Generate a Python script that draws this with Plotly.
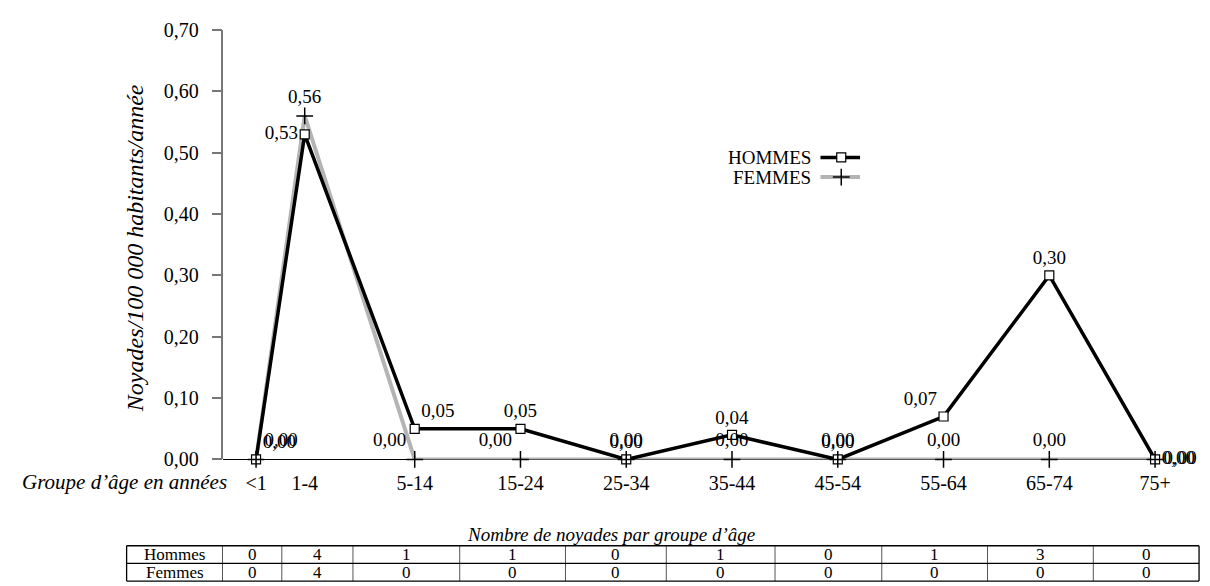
import plotly.graph_objects as go

# ---- data ----
age_groups = ["<1", "1-4", "5-14", "15-24", "25-34", "35-44", "45-54", "55-64", "65-74", "75+"]
hommes_rate = [0.00, 0.53, 0.05, 0.05, 0.00, 0.04, 0.00, 0.07, 0.30, 0.00]
femmes_rate = [0.00, 0.56, 0.00, 0.00, 0.00, 0.00, 0.00, 0.00, 0.00, 0.00]
hommes_count = [0, 4, 1, 1, 0, 1, 0, 1, 3, 0]
femmes_count = [0, 4, 0, 0, 0, 0, 0, 0, 0, 0]
row_labels = ["Hommes", "Femmes"]
y_ticks = [0.0, 0.1, 0.2, 0.3, 0.4, 0.5, 0.6, 0.7]

# axis placement of the age groups (first group is narrower)
x_pos = [0, 0.46, 1.5, 2.5, 3.5, 4.5, 5.5, 6.5, 7.5, 8.5]

hommes_textpos = ["top right", "middle left", "top right", "top center", "top center",
                  "top center", "top center", "top left", "top center", "middle right"]
femmes_textpos = ["top right", "top center", "top left", "top left", "top center",
                  "top center", "top center", "top center", "top center", "middle right"]

FONT = "Liberation Serif"
W, H = 1210, 586
TOP, BOT = 22, 586

def px_to_paper_y(py):
    return (BOT - py) / (BOT - TOP)

fig = go.Figure()

# femmes line (behind)
fig.add_trace(go.Scatter(
    x=x_pos, y=femmes_rate, mode="lines",
    line=dict(color="#b4b4b4", width=4), cliponaxis=False, showlegend=False,
    hoverinfo="skip"))
# hommes line + markers + labels
fig.add_trace(go.Scatter(
    x=x_pos, y=hommes_rate, mode="lines+markers+text",
    line=dict(color="black", width=3.5),
    marker=dict(symbol="square", size=9, color="white", line=dict(color="black", width=1.2)),
    texttemplate="%{y:.2f}", textposition=hommes_textpos,
    textfont=dict(family=FONT, size=19, color="black"),
    cliponaxis=False, showlegend=False))
# femmes markers + labels (on top)
fig.add_trace(go.Scatter(
    x=x_pos, y=femmes_rate, mode="markers+text",
    marker=dict(symbol="cross-thin", size=12, line=dict(color="black", width=1.5)),
    texttemplate="%{y:.2f}", textposition=femmes_textpos,
    textfont=dict(family=FONT, size=19, color="black"),
    cliponaxis=False, showlegend=False))

# ---- manual legend glyphs on a pixel helper axis ----
leg = [("HOMMES", 152, "black", 3.5, dict(symbol="square", size=9, color="white",
                                            line=dict(color="black", width=1.2))),
       ("FEMMES", 172, "#b4b4b4", 4, dict(symbol="cross-thin", size=12,
                                           line=dict(color="black", width=1.5)))]
for name, py, col, w, mk in leg:
    fig.add_trace(go.Scatter(x=[822, 862], y=[py, py], mode="lines",
                             line=dict(color=col, width=w), xaxis="x2", yaxis="y2",
                             showlegend=False, hoverinfo="skip"))
    fig.add_trace(go.Scatter(x=[843], y=[py], mode="markers", marker=mk,
                             xaxis="x2", yaxis="y2", showlegend=False, hoverinfo="skip"))
    fig.add_annotation(x=814, y=py, xref="x2", yref="y2", text=name, showarrow=False,
                       xanchor="right", yanchor="middle",
                       font=dict(family=FONT, size=19, color="black"))

# ---- table (drawn with shapes + annotations on the pixel helper axis) ----
col_edges = [120, 217, 277, 349, 457, 564, 666, 776, 884, 991, 1098, 1205]
row_edges = [548, 566, 584]
for xe in col_edges:
    outer = xe in (col_edges[0], col_edges[-1])
    fig.add_shape(type="line", xref="x2", yref="y2", x0=xe, x1=xe,
                  y0=row_edges[0], y1=row_edges[-1],
                  line=dict(color="black" if outer else "#555555", width=1.3 if outer else 1))
for ye in row_edges:
    fig.add_shape(type="line", xref="x2", yref="y2", x0=col_edges[0], x1=col_edges[-1],
                  y0=ye, y1=ye, line=dict(color="black", width=1.3))
for r, (label, counts) in enumerate(zip(row_labels, [hommes_count, femmes_count])):
    yc = (row_edges[r] + row_edges[r + 1]) / 2
    cells = [label] + [str(v) for v in counts]
    for c, txt in enumerate(cells):
        xc = (col_edges[c] + col_edges[c + 1]) / 2
        fig.add_annotation(x=xc, y=yc, xref="x2", yref="y2", text=txt, showarrow=False,
                           xanchor="center", yanchor="middle", borderpad=0,
                           font=dict(family=FONT, size=17, color="black"))

def fmt(s):
    return s.replace("<", "&lt;")

# ---- annotations ----
fig.add_annotation(x=128, y=245, xref="x2", yref="y2", text="<i>Noyades/100 000 habitants/année</i>",
                   textangle=-90, showarrow=False,
                   font=dict(family=FONT, size=24, color="black"))
fig.add_annotation(x=224, y=483, xref="x2", yref="y2", text="<i>Groupe d’âge en années</i>",
                   showarrow=False, xanchor="right", yanchor="middle",
                   font=dict(family=FONT, size=21, color="black"))
fig.add_annotation(x=610, y=537, xref="x2", yref="y2", text="<i>Nombre de noyades par groupe d’âge</i>",
                   showarrow=False, xanchor="center", yanchor="middle",
                   font=dict(family=FONT, size=19, color="black"))

fig.update_layout(
    width=W, height=H,
    margin=dict(l=0, r=0, t=TOP, b=H - BOT),
    paper_bgcolor="white", plot_bgcolor="rgba(0,0,0,0)",
    separators=", ",
    showlegend=False,
    font=dict(family=FONT, color="black"),
    xaxis=dict(domain=[218 / W, 1162 / W], range=[-0.308, 8.514],
               tickvals=x_pos, ticktext=[fmt(a) for a in age_groups],
               showgrid=False, zeroline=False, showline=False, ticks="",
               ticklabelstandoff=10,
               tickfont=dict(family=FONT, size=20, color="black")),
    yaxis=dict(domain=[px_to_paper_y(460), 1], range=[0, 0.7], tickvals=y_ticks,
               tickformat=".2f", showgrid=False, zeroline=True, zerolinecolor="black",
               zerolinewidth=1, showline=True, linecolor="#777777", linewidth=1.5,
               ticks="outside", ticklen=10, tickcolor="#777777", tickwidth=1.5,
               ticklabelstandoff=9,
               tickfont=dict(family=FONT, size=20, color="black")),
    xaxis2=dict(domain=[0, 1], range=[0, W], visible=False, anchor="y2", fixedrange=True),
    yaxis2=dict(domain=[0, 1], range=[BOT, TOP], visible=False, anchor="x2", fixedrange=True),
)

fig.write_html("out.html")
